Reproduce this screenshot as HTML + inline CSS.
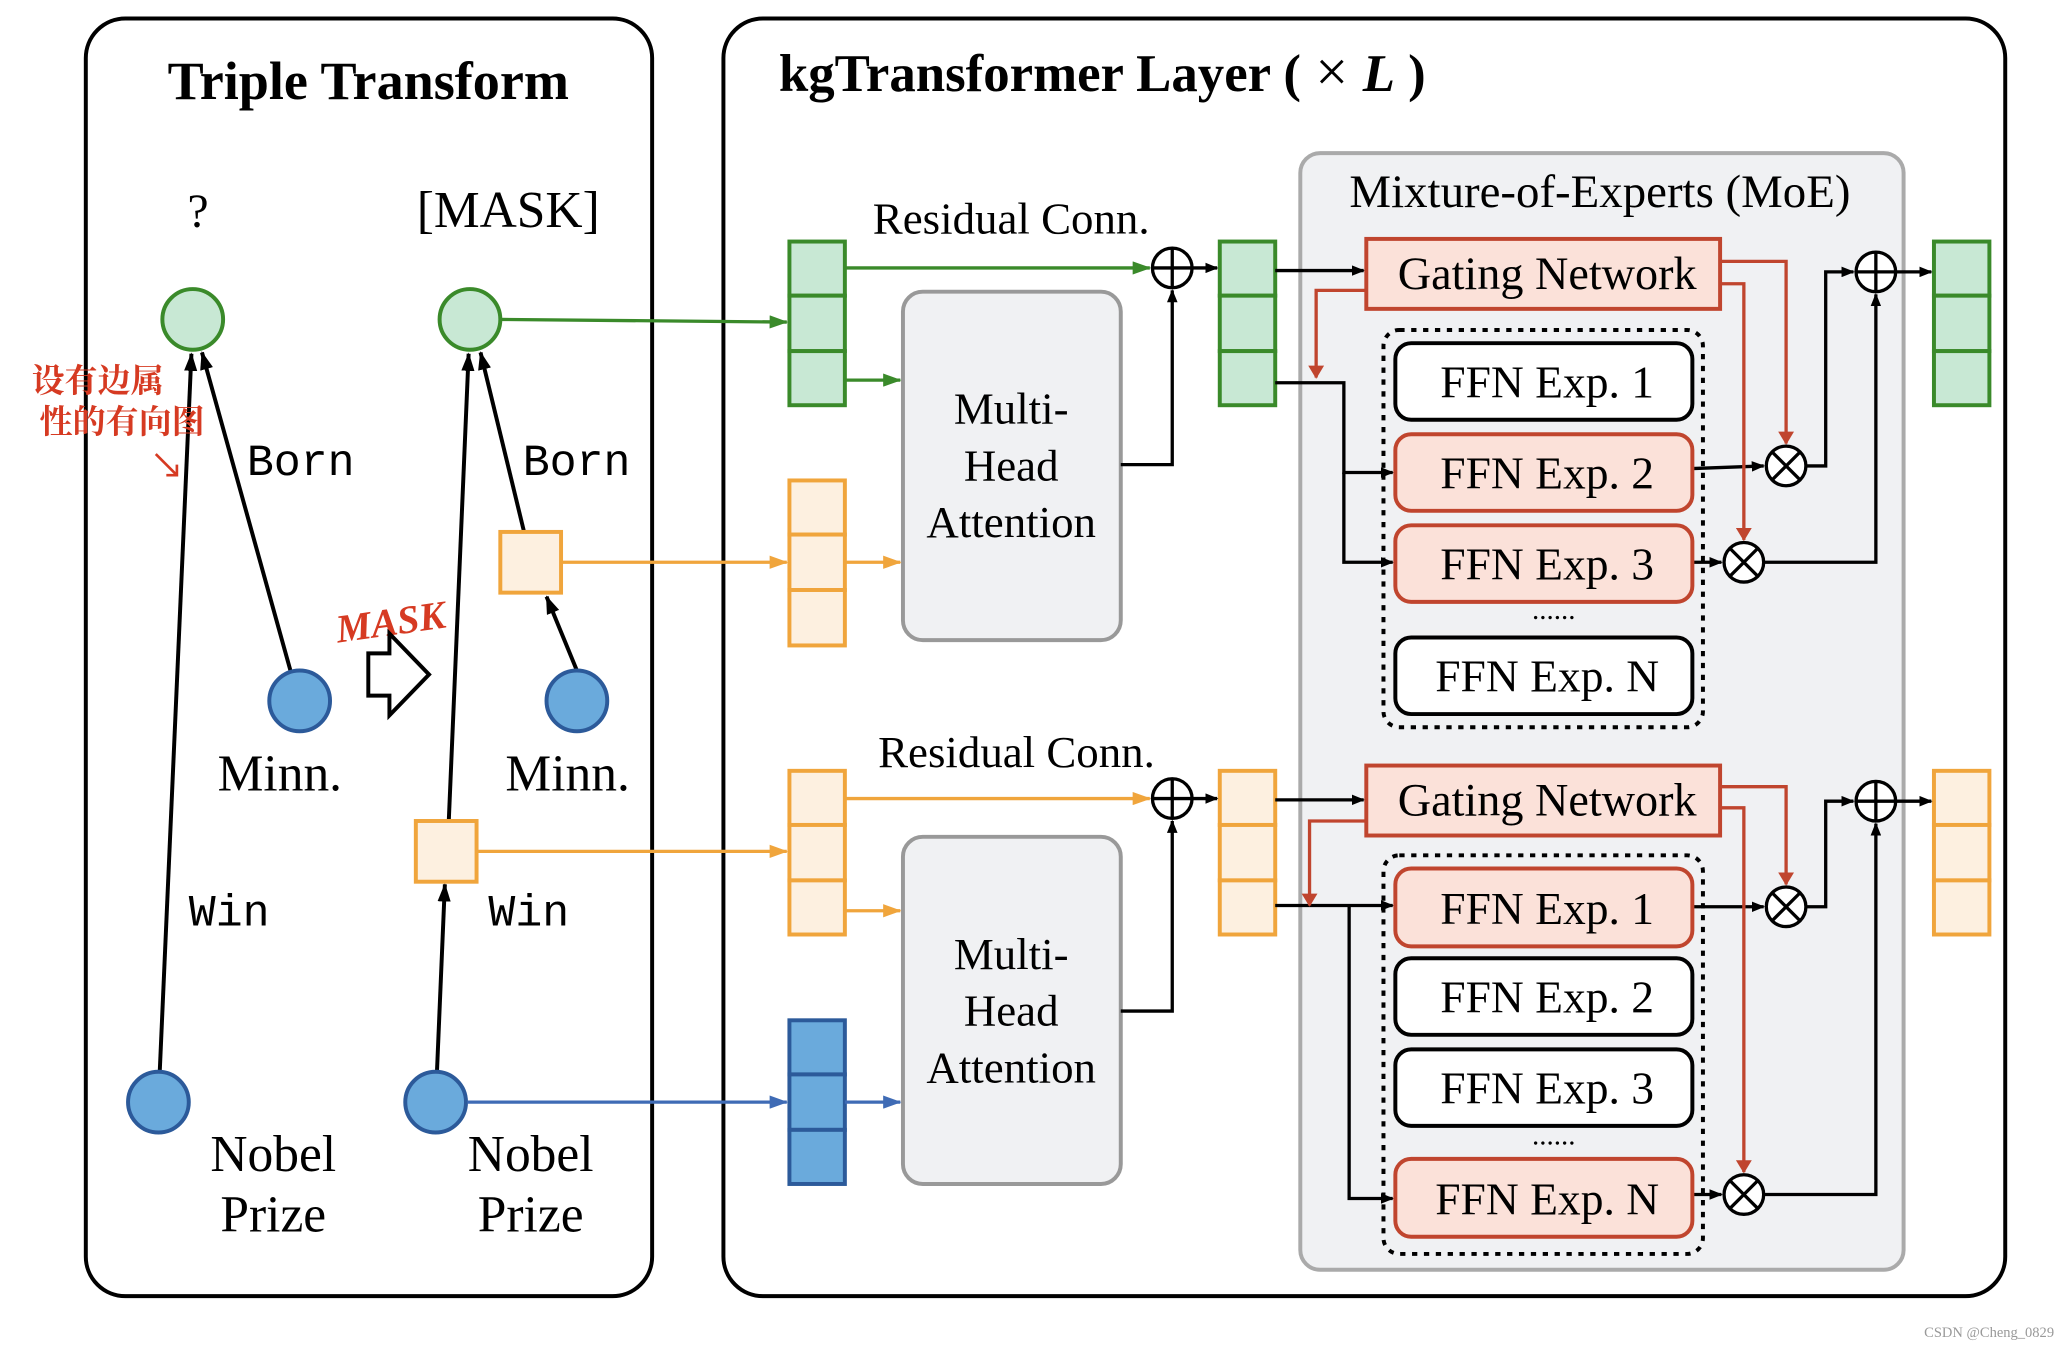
<!DOCTYPE html>
<html><head><meta charset="utf-8"><style>
html,body{margin:0;padding:0;background:#fff;}
svg{display:block;}
text{font-family:"Liberation Serif","Noto Serif CJK SC",serif;}
.m{font-family:"Liberation Mono",monospace;}
</style></head><body>
<svg width="2062" height="1345" viewBox="0 0 1562 1019" preserveAspectRatio="none" xmlns="http://www.w3.org/2000/svg">
<defs>
<marker id="ak" markerWidth="10" markerHeight="8" refX="9" refY="4" orient="auto" markerUnits="userSpaceOnUse"><path d="M0,0 L10,4 L0,8 z" fill="#000"/></marker>
<marker id="ag" markerWidth="14" markerHeight="10" refX="13" refY="5" orient="auto" markerUnits="userSpaceOnUse"><path d="M0,0 L14,5 L0,10 z" fill="#3a8a2a"/></marker>
<marker id="ao" markerWidth="14" markerHeight="10" refX="13" refY="5" orient="auto" markerUnits="userSpaceOnUse"><path d="M0,0 L14,5 L0,10 z" fill="#f0a53c"/></marker>
<marker id="ab" markerWidth="14" markerHeight="10" refX="13" refY="5" orient="auto" markerUnits="userSpaceOnUse"><path d="M0,0 L14,5 L0,10 z" fill="#3f6bb5"/></marker>
<marker id="ar" markerWidth="10" markerHeight="12" refX="9" refY="6" orient="auto" markerUnits="userSpaceOnUse"><path d="M0,0 L10,6 L0,12 z" fill="#c0452e"/></marker>
<marker id="ak2" markerWidth="14" markerHeight="10" refX="13" refY="5" orient="auto" markerUnits="userSpaceOnUse"><path d="M0,0 L14,5 L0,10 z" fill="#000"/></marker>
</defs>
<rect width="1562" height="1019" fill="#fff"/>
<rect x="65" y="14" width="429" height="968" rx="30" fill="none" stroke="#000" stroke-width="3"/>
<text x="279" y="75" font-size="41" font-weight="bold" text-anchor="middle">Triple Transform</text>
<text x="150" y="172" font-size="36" text-anchor="middle">?</text>
<text x="385" y="172" font-size="39" text-anchor="middle">[MASK]</text>
<g stroke="#000" stroke-width="3" fill="none" marker-end="url(#ak2)">
<line x1="121" y1="812" x2="145" y2="268"/>
<line x1="220" y1="508" x2="153" y2="267"/>
<line x1="340" y1="621" x2="355" y2="268"/>
<line x1="397" y1="403" x2="364" y2="267"/>
<line x1="437" y1="508" x2="414" y2="452"/>
<line x1="331" y1="812" x2="337" y2="670"/>
</g>
<circle cx="146" cy="242" r="23" fill="#c8e8d4" stroke="#3a8a2a" stroke-width="3"/>
<circle cx="356" cy="242" r="23" fill="#c8e8d4" stroke="#3a8a2a" stroke-width="3"/>
<g fill="#6aaadc" stroke="#2c5a9a" stroke-width="3">
<circle cx="227" cy="531" r="23"/><circle cx="437" cy="531" r="23"/>
<circle cx="120" cy="835" r="23"/><circle cx="330" cy="835" r="23"/>
</g>
<rect x="379" y="403" width="46" height="46" fill="#fdf0e0" stroke="#f0a53c" stroke-width="3"/>
<rect x="315" y="622" width="46" height="46" fill="#fdf0e0" stroke="#f0a53c" stroke-width="3"/>
<text class="m" x="187" y="360" font-size="34">Born</text>
<text class="m" x="396" y="360" font-size="34">Born</text>
<text class="m" x="143" y="701" font-size="34">Win</text>
<text class="m" x="370" y="701" font-size="34">Win</text>
<text x="212" y="599" font-size="39" text-anchor="middle">Minn.</text>
<text x="430" y="599" font-size="39" text-anchor="middle">Minn.</text>
<text x="207" y="887" font-size="39" text-anchor="middle">Nobel</text>
<text x="207" y="933" font-size="39" text-anchor="middle">Prize</text>
<text x="402" y="887" font-size="39" text-anchor="middle">Nobel</text>
<text x="402" y="933" font-size="39" text-anchor="middle">Prize</text>
<text x="254" y="482" font-size="30" font-weight="bold" fill="#d63a22" font-family="Liberation Sans,sans-serif" font-style="italic" transform="rotate(-8 290 470)">MASK</text>
<path d="M279,495 L295,495 L295,480 L325,511 L295,542 L295,527 L279,527 z" fill="#fff" stroke="#000" stroke-width="3"/>
<text x="24" y="297" font-size="25" font-weight="bold" fill="#d63a22" font-family="Noto Sans CJK SC,sans-serif">设有边属</text>
<text x="30" y="328" font-size="25" font-weight="bold" fill="#d63a22" font-family="Noto Sans CJK SC,sans-serif">性的有向图</text>
<path d="M118,344 L134,360 M126,360 L134,360 L134,352" stroke="#d63a22" stroke-width="2" fill="none"/>

<rect x="548" y="14" width="971" height="968" rx="30" fill="none" stroke="#000" stroke-width="3"/>
<text x="590" y="69" font-size="40" font-weight="bold">kgTransformer Layer (<tspan font-weight="normal" font-size="44"> × </tspan><tspan font-style="italic">L</tspan> )</text>
<rect x="985" y="116" width="457" height="846" rx="15" fill="#f0f1f3" stroke="#aaa" stroke-width="3"/>
<text x="1212" y="157" font-size="35.5" text-anchor="middle">Mixture-of-Experts (MoE)</text>

<g stroke-width="3">
<g fill="#c8e8d4" stroke="#3a8a2a">
<rect x="598" y="183" width="42" height="41"/><rect x="598" y="224" width="42" height="42"/><rect x="598" y="266" width="42" height="41"/>
<rect x="924" y="183" width="42" height="41"/><rect x="924" y="224" width="42" height="42"/><rect x="924" y="266" width="42" height="41"/>
<rect x="1465" y="183" width="42" height="41"/><rect x="1465" y="224" width="42" height="42"/><rect x="1465" y="266" width="42" height="41"/>
</g>
<g fill="#fdf0e0" stroke="#f0a53c">
<rect x="598" y="364" width="42" height="41"/><rect x="598" y="405" width="42" height="42"/><rect x="598" y="447" width="42" height="42"/>
<rect x="598" y="584" width="42" height="41"/><rect x="598" y="625" width="42" height="42"/><rect x="598" y="667" width="42" height="41"/>
<rect x="924" y="584" width="42" height="41"/><rect x="924" y="625" width="42" height="42"/><rect x="924" y="667" width="42" height="41"/>
<rect x="1465" y="584" width="42" height="41"/><rect x="1465" y="625" width="42" height="42"/><rect x="1465" y="667" width="42" height="41"/>
</g>
<g fill="#6aaadc" stroke="#2c5a9a">
<rect x="598" y="773" width="42" height="41"/><rect x="598" y="814" width="42" height="42"/><rect x="598" y="856" width="42" height="41"/>
</g>
</g>

<rect x="684" y="221" width="165" height="264" rx="15" fill="#f0f1f3" stroke="#999" stroke-width="3"/>
<rect x="684" y="634" width="165" height="263" rx="15" fill="#f0f1f3" stroke="#999" stroke-width="3"/>
<g font-size="34" text-anchor="middle">
<text x="766" y="321">Multi-</text><text x="766" y="364">Head</text><text x="766" y="407">Attention</text>
<text x="766" y="734">Multi-</text><text x="766" y="777">Head</text><text x="766" y="820">Attention</text>
<text x="766" y="177">Residual Conn.</text><text x="770" y="581">Residual Conn.</text>
</g>

<g stroke-width="2.5" fill="none">
<line x1="380" y1="242" x2="596" y2="244" stroke="#3a8a2a" marker-end="url(#ag)"/>
<line x1="640" y1="203" x2="871" y2="203" stroke="#3a8a2a" marker-end="url(#ag)"/>
<line x1="640" y1="288" x2="682" y2="288" stroke="#3a8a2a" marker-end="url(#ag)"/>
<line x1="425" y1="426" x2="596" y2="426" stroke="#f0a53c" marker-end="url(#ao)"/>
<line x1="640" y1="426" x2="682" y2="426" stroke="#f0a53c" marker-end="url(#ao)"/>
<line x1="361" y1="645" x2="596" y2="645" stroke="#f0a53c" marker-end="url(#ao)"/>
<line x1="640" y1="605" x2="871" y2="605" stroke="#f0a53c" marker-end="url(#ao)"/>
<line x1="640" y1="690" x2="682" y2="690" stroke="#f0a53c" marker-end="url(#ao)"/>
<line x1="354" y1="835" x2="596" y2="835" stroke="#3f6bb5" marker-end="url(#ab)"/>
<line x1="640" y1="835" x2="682" y2="835" stroke="#3f6bb5" marker-end="url(#ab)"/>
</g>

<g stroke="#000" stroke-width="2.5" fill="none" marker-end="url(#ak)">
<polyline points="849,352 888,352 888,220"/>
<line x1="903" y1="203" x2="922" y2="203"/>
<polyline points="849,766 888,766 888,622"/>
<line x1="903" y1="605" x2="922" y2="605"/>
<line x1="966" y1="205" x2="1033" y2="205"/>
<polyline points="966,290 1018,290 1018,358 1055,358"/>
<polyline points="1018,358 1018,426 1055,426"/>
<line x1="1282" y1="355" x2="1336" y2="353"/>
<line x1="1282" y1="426" x2="1304" y2="426"/>
<polyline points="1368,353 1383,353 1383,206 1404,206"/>
<polyline points="1336,426 1421,426 1421,223"/>
<line x1="1436" y1="206" x2="1463" y2="206"/>
<line x1="966" y1="606" x2="1033" y2="606"/>
<line x1="966" y1="686" x2="1055" y2="686"/>
<polyline points="1022,686 1022,908 1055,908"/>
<line x1="1282" y1="687" x2="1336" y2="687"/>
<line x1="1282" y1="905" x2="1304" y2="905"/>
<polyline points="1368,687 1383,687 1383,607 1404,607"/>
<polyline points="1336,905 1421,905 1421,624"/>
<line x1="1436" y1="607" x2="1463" y2="607"/>
</g>

<g fill="#fbe1d9" stroke="#c0452e" stroke-width="3">
<rect x="1035" y="181" width="268" height="53"/>
<rect x="1035" y="580" width="268" height="53"/>
</g>
<g font-size="35" text-anchor="middle">
<text x="1172" y="219">Gating Network</text>
<text x="1172" y="618">Gating Network</text>
</g>
<g stroke="#c0452e" stroke-width="2.5" fill="none" marker-end="url(#ar)">
<polyline points="1035,220 997,220 997,286"/>
<polyline points="1303,198 1353,198 1353,336"/>
<polyline points="1303,215 1321,215 1321,409"/>
<polyline points="1035,622 992,622 992,686"/>
<polyline points="1303,596 1353,596 1353,670"/>
<polyline points="1303,612 1321,612 1321,888"/>
</g>

<rect x="1048" y="250" width="242" height="301" rx="12" fill="none" stroke="#000" stroke-width="3" stroke-dasharray="4,5"/>
<rect x="1048" y="648" width="242" height="302" rx="12" fill="none" stroke="#000" stroke-width="3" stroke-dasharray="4,5"/>
<g stroke-width="3">
<rect x="1057" y="260" width="225" height="58" rx="12" fill="#fff" stroke="#000"/>
<rect x="1057" y="329" width="225" height="58" rx="12" fill="#fbe1d9" stroke="#c0452e"/>
<rect x="1057" y="398" width="225" height="58" rx="12" fill="#fbe1d9" stroke="#c0452e"/>
<rect x="1057" y="483" width="225" height="58" rx="12" fill="#fff" stroke="#000"/>
<rect x="1057" y="658" width="225" height="59" rx="12" fill="#fbe1d9" stroke="#c0452e"/>
<rect x="1057" y="726" width="225" height="58" rx="12" fill="#fff" stroke="#000"/>
<rect x="1057" y="795" width="225" height="58" rx="12" fill="#fff" stroke="#000"/>
<rect x="1057" y="878" width="225" height="59" rx="12" fill="#fbe1d9" stroke="#c0452e"/>
</g>
<g font-size="34.5" text-anchor="middle">
<text x="1172" y="301">FFN Exp. 1</text>
<text x="1172" y="370">FFN Exp. 2</text>
<text x="1172" y="439">FFN Exp. 3</text>
<text x="1172" y="524">FFN Exp. N</text>
<text x="1172" y="700">FFN Exp. 1</text>
<text x="1172" y="767">FFN Exp. 2</text>
<text x="1172" y="836">FFN Exp. 3</text>
<text x="1172" y="920">FFN Exp. N</text>
<text x="1177" y="469" font-size="22">......</text>
<text x="1177" y="867" font-size="22">......</text>
</g>

<g stroke="#000" stroke-width="2.5" fill="#fff">
<circle cx="888" cy="203" r="15"/><circle cx="888" cy="605" r="15"/>
<circle cx="1421" cy="206" r="15"/><circle cx="1421" cy="607" r="15"/>
<circle cx="1353" cy="353" r="15"/><circle cx="1321" cy="426" r="15"/>
<circle cx="1353" cy="687" r="15"/><circle cx="1321" cy="905" r="15"/>
</g>
<g stroke="#000" stroke-width="2.5">
<path d="M873,203 h30 M888,188 v30 M873,605 h30 M888,590 v30 M1406,206 h30 M1421,191 v30 M1406,607 h30 M1421,592 v30"/>
<path d="M1342,342 l22,22 M1364,342 l-22,22 M1310,415 l22,22 M1332,415 l-22,22 M1342,676 l22,22 M1364,676 l-22,22 M1310,894 l22,22 M1332,894 l-22,22"/>
</g>

<text x="1556" y="1013" font-size="11" fill="#999" text-anchor="end" font-family="Liberation Sans,sans-serif">CSDN @Cheng_0829</text>
</svg>
</body></html>
